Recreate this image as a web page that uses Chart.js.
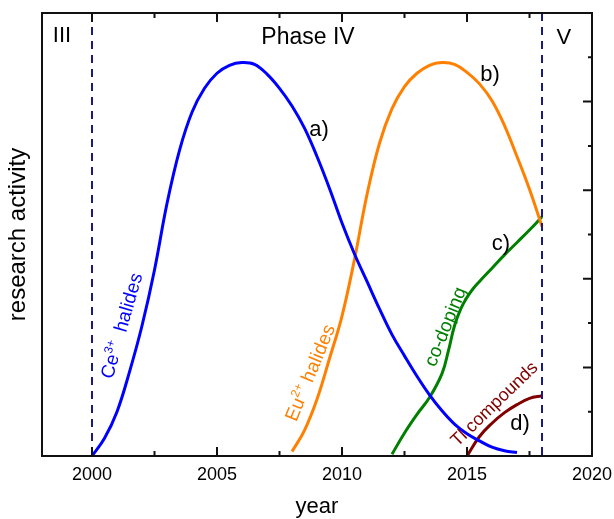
<!DOCTYPE html>
<html><head><meta charset="utf-8">
<script src="https://cdn.jsdelivr.net/npm/chart.js@4.4.1/dist/chart.umd.min.js"></script>
<style>html,body{margin:0;padding:0;background:#fff}canvas{display:block}</style>
</head><body>
<canvas id="c" width="614" height="519"></canvas>
<script>
// ---- data ----
const ceYears  = [2000.0, 2000.5, 2001.0, 2001.5, 2002.0, 2002.5, 2003.0, 2003.5, 2004.0, 2004.5, 2005.0, 2005.5, 2006.0, 2006.5, 2007.0, 2007.5, 2008.0, 2008.5, 2009.0, 2009.5, 2010.0, 2010.5, 2011.0, 2011.5, 2012.0, 2012.5, 2013.0, 2013.5, 2014.0, 2014.5, 2015.0, 2015.5, 2016.0, 2016.5, 2017.0];
const ceValues = [0.00, 0.20, 0.50, 0.95, 1.47, 2.10, 2.85, 3.45, 3.88, 4.15, 4.32, 4.41, 4.44, 4.42, 4.31, 4.15, 3.95, 3.70, 3.38, 3.02, 2.63, 2.28, 1.97, 1.66, 1.37, 1.13, 0.90, 0.69, 0.51, 0.36, 0.25, 0.17, 0.10, 0.06, 0.04];

const euYears  = [2008.0, 2008.5, 2009.0, 2009.5, 2010.0, 2010.5, 2011.0, 2011.5, 2012.0, 2012.5, 2013.0, 2013.5, 2014.0, 2014.5, 2015.0, 2015.5, 2016.0, 2016.5, 2017.0, 2017.5, 2018.0];
const euValues = [0.05, 0.29, 0.64, 1.10, 1.58, 2.22, 2.95, 3.53, 3.92, 4.17, 4.32, 4.41, 4.44, 4.42, 4.33, 4.20, 4.01, 3.73, 3.38, 3.01, 2.59];

const coYears  = [2012.0, 2012.5, 2013.0, 2013.5, 2014.0, 2014.25, 2014.5, 2014.75, 2015.0, 2015.25, 2015.5, 2016.0, 2016.5, 2017.0, 2017.5, 2018.0];
const coValues = [0.02, 0.26, 0.47, 0.66, 0.93, 1.18, 1.47, 1.66, 1.79, 1.89, 1.97, 2.12, 2.27, 2.41, 2.55, 2.70];

const tlYears  = [2015.0, 2015.5, 2016.0, 2016.5, 2017.0, 2017.5, 2018.0];
const tlValues = [0.00, 0.22, 0.37, 0.49, 0.58, 0.65, 0.68];

const phaseBoundaries = [2000, 2018];

const xTickLabels = [2000, 2005, 2010, 2015, 2020];
const xMinorTicks = [2002.5, 2007.5, 2012.5, 2017.5];
const yMajorTicks = [1, 2, 3, 4];
const yMinorTicks = [0.5, 1.5, 2.5, 3.5, 4.5];

// ---- styling / annotations ----
const FONT = "'Liberation Sans', Arial, sans-serif";
const COLORS = {ce:'#0000ff', eu:'#ff8000', co:'#008000', tl:'#800000', phase:'#1a1a80', axis:'#111111'};

const textNotes = [
  {parts:[{t:'III', s:22}], x:1998.8, y:4.75, rot:0, color:'#000'},
  {parts:[{t:'Phase IV', s:23}], x:2008.64, y:4.74, rot:0, color:'#000'},
  {parts:[{t:'V', s:22}], x:2018.87, y:4.73, rot:0, color:'#000'},
  {parts:[{t:'a)', s:22}], x:2009.08, y:3.69, rot:0, color:'#000'},
  {parts:[{t:'b)', s:22}], x:2015.92, y:4.31, rot:0, color:'#000'},
  {parts:[{t:'c)', s:22}], x:2016.36, y:2.41, rot:0, color:'#000'},
  {parts:[{t:'d)', s:22}], x:2017.12, y:0.38, rot:0, color:'#000'},
  {parts:[{t:'Ce', s:19}, {t:'3+', s:12, rise:8}, {t:'  halides', s:19}], x:2001.18, y:1.47, rot:-74, color:COLORS.ce},
  {parts:[{t:'Eu', s:19}, {t:'2+', s:12, rise:8}, {t:' halides', s:19}], x:2008.72, y:0.94, rot:-67.5, color:COLORS.eu},
  {parts:[{t:'co-doping', s:19}], x:2014.12, y:1.46, rot:-68, color:COLORS.co},
  {parts:[{t:'Tl compounds', s:18}], x:2016.08, y:0.59, rot:-44, color:COLORS.tl},
];

function pts(xs, ys) { return xs.map((x, i) => ({x: x, y: ys[i]})); }
function curve(data, color) {
  return {data: data, borderColor: color, backgroundColor: color, borderWidth: 3, pointRadius: 0,
          showLine: true, fill: false, tension: 0.4};
}
function phaseLine(year) {
  return {data: [{x: year, y: 5}, {x: year, y: 0}], borderColor: COLORS.phase, borderWidth: 2,
          borderDash: [8, 6], pointRadius: 0, showLine: true, fill: false, tension: 0};
}

const framePlugin = {
  id: 'frame',
  afterDatasetsDraw(chart) {
    const {ctx, chartArea: a, scales: {x, y}} = chart;
    ctx.save();
    textNotes.forEach(n => {
      const px = x.getPixelForValue(n.x), py = y.getPixelForValue(n.y);
      ctx.save();
      ctx.translate(px, py);
      ctx.rotate(n.rot * Math.PI / 180);
      ctx.fillStyle = n.color;
      ctx.textAlign = 'left';
      ctx.textBaseline = 'alphabetic';
      let w = 0;
      n.parts.forEach(p => { ctx.font = p.s + 'px ' + FONT; w += ctx.measureText(p.t).width; });
      let cx = -w / 2;
      const base = n.parts[0].s * 0.33;
      n.parts.forEach(p => {
        ctx.font = p.s + 'px ' + FONT;
        ctx.fillText(p.t, cx, base - (p.rise || 0));
        cx += ctx.measureText(p.t).width;
      });
      ctx.restore();
    });
    ctx.strokeStyle = COLORS.axis;
    ctx.lineWidth = 2;
    ctx.strokeRect(a.left, a.top, a.right - a.left, a.bottom - a.top);
    ctx.beginPath();
    const tickX = (v, len) => {
      const p = x.getPixelForValue(v);
      ctx.moveTo(p, a.bottom); ctx.lineTo(p, a.bottom - len);
      ctx.moveTo(p, a.top); ctx.lineTo(p, a.top + len);
    };
    xTickLabels.forEach(v => tickX(v, 9));
    xMinorTicks.forEach(v => tickX(v, 5));
    const tickY = (v, len) => {
      const p = y.getPixelForValue(v);
      ctx.moveTo(a.right, p); ctx.lineTo(a.right - len, p);
    };
    yMajorTicks.forEach(v => tickY(v, 9));
    yMinorTicks.forEach(v => tickY(v, 4));
    ctx.stroke();
    ctx.restore();
  }
};

new Chart(document.getElementById('c'), {
  type: 'scatter',
  data: {
    datasets: [
      phaseLine(phaseBoundaries[0]),
      phaseLine(phaseBoundaries[1]),
      curve(pts(ceYears, ceValues), COLORS.ce),
      curve(pts(euYears, euValues), COLORS.eu),
      curve(pts(coYears, coValues), COLORS.co),
      curve(pts(tlYears, tlValues), COLORS.tl),
    ]
  },
  options: {
    responsive: false,
    animation: false,
    devicePixelRatio: 1,
    layout: {padding: {top: 13, right: 22, left: 0, bottom: 0}},
    plugins: {legend: {display: false}, tooltip: {enabled: false}},
    scales: {
      x: {
        type: 'linear', position: 'bottom', min: 1998, max: 2020,
        grid: {display: false, drawTicks: false},
        border: {display: false},
        afterBuildTicks: s => { s.ticks = xTickLabels.map(v => ({value: v})); },
        afterFit: s => { s.height = 63; s.paddingLeft = 0; s.paddingRight = 0; },
        ticks: {autoSkip: false, maxRotation: 0, padding: 8, color: '#000',
                font: {family: FONT, size: 18}, callback: v => String(v)},
        title: {display: true, text: 'year', color: '#000', padding: {top: 0, bottom: 0},
                font: {family: FONT, size: 22, lineHeight: 1.1}}
      },
      y: {
        type: 'linear', position: 'left', min: 0, max: 5,
        grid: {display: false, drawTicks: false},
        border: {display: false},
        ticks: {display: false},
        afterFit: s => { s.width = 42; s.paddingTop = 0; s.paddingBottom = 0; },
        title: {display: true, text: 'research activity', color: '#000', padding: {top: 4, bottom: 0},
                font: {family: FONT, size: 24, lineHeight: 1.2}}
      }
    }
  },
  plugins: [framePlugin]
});
</script>
</body></html>
